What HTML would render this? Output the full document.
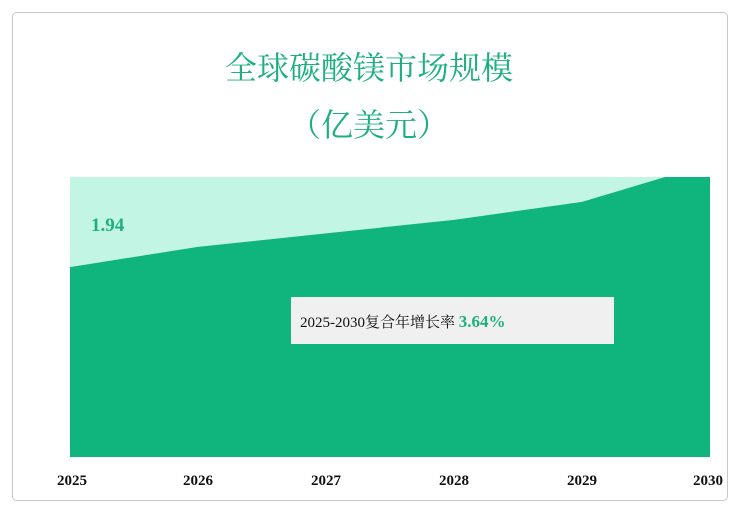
<!DOCTYPE html>
<html><head><meta charset="utf-8"><style>
body{margin:0;width:739px;height:510px;background:#fff;overflow:hidden}
svg{display:block}
</style></head><body>
<svg width="739" height="510">
<rect x="12.5" y="12.5" width="715" height="488" rx="4" fill="#fff" stroke="#c8c8c8"/>
<text x="369" y="79" text-anchor="middle" font-family="'Liberation Serif','Noto Serif CJK SC',serif" font-size="32" fill="#1db07d">全球碳酸镁市场规模</text>
<text x="369" y="136" text-anchor="middle" font-family="'Liberation Serif','Noto Serif CJK SC',serif" font-size="32" fill="#1db07d">（亿美元）</text>
<defs><clipPath id="pc"><rect x="70" y="177" width="640" height="280"/></clipPath></defs>
<rect x="70" y="177" width="640" height="280" fill="#c3f5e4"/>
<g id="area" clip-path="url(#pc)"></g>
<g id="xl"></g>
<text id="firstval" font-family="'Liberation Serif',serif" font-weight="bold" font-size="19" fill="#1db07d"></text>
<rect x="291" y="297" width="323" height="47" fill="#f0f0f0"/>
<text x="300" y="327" font-family="'Liberation Serif','Noto Serif CJK SC',serif" font-size="15" fill="#111">2025-2030复合年增长率 <tspan fill="#1db07d" font-weight="bold" font-size="17">3.64%</tspan></text>
</svg>
<script>
const years=['2025','2026','2027','2028','2029','2030'];
const values=[1.94,2.03,2.09,2.15,2.23,2.40];
const vmin=1.096,k=225,x0=70,x1=710,yb=457;
function xs(i){return x0+i*(x1-x0)/(years.length-1);}
function ys(v){return yb-(v-vmin)*k;}
const ns='http://www.w3.org/2000/svg';
let d='M'+x0+','+yb;
values.forEach((v,i)=>{d+=' L'+xs(i)+','+ys(v);});
d+=' L'+x1+','+yb+' Z';
const p=document.createElementNS(ns,'path');
p.setAttribute('d',d);p.setAttribute('fill','#0fb57d');


document.getElementById('area').appendChild(p);
const xl=document.getElementById('xl');
years.forEach((y,i)=>{
const t=document.createElementNS(ns,'text');
t.setAttribute('x',xs(i)+(i==0?2:(i==years.length-1?-2:0)));t.setAttribute('y',485);
t.setAttribute('text-anchor','middle');t.setAttribute('font-family',"'Liberation Serif',serif");
t.setAttribute('font-weight','bold');t.setAttribute('font-size','15');t.setAttribute('fill','#111');
t.textContent=y;


xl.appendChild(t);
});
const fv=document.getElementById('firstval');
fv.setAttribute('x',91);fv.setAttribute('y',ys(values[0])-36);
fv.textContent=values[0].toFixed(2);
</script>
</body></html>
